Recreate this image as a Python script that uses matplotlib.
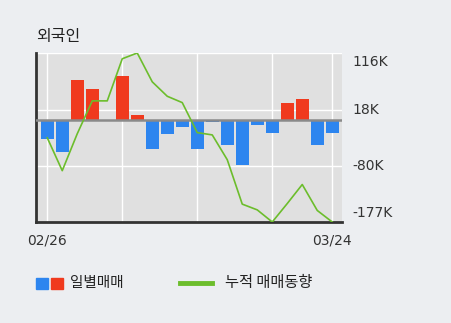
import matplotlib
matplotlib.use("Agg")
import matplotlib.pyplot as plt
import matplotlib.transforms as mtransforms
from matplotlib.patches import Rectangle
from matplotlib.lines import Line2D

plt.rcParams['font.family'] = ['Noto Sans CJK KR', 'DejaVu Sans']

# daily foreign net buying (thousand shares), 02/26 .. 03/24
daily = [-33, -55, 69, 53, 0, 76, 9, -50, -25, -13,
         -51, -3, -43, -79, -9, -22, 30, 37, -44, -22]
# cumulative net buying
cumulative = [-31, -88, -24, 33, 33, 106, 116, 66, 41, 30,
              -22, -26, -69, -146, -156, -177, -145, -112, -157, -177]
ytick_vals = [116, 18, -80, -177]
ytick_labels = ["116K", "18K", "-80K", "-177K"]
date_labels = {0: "02/26", 19: "03/24"}
title = "외국인"
legend_bar = "일별매매"
legend_line = "누적 매매동향"

RED = "#f03a1e"
BLUE = "#2d85ef"
GREEN = "#6cbd2c"
BG = "#eceef1"
PLOT_BG = "#e0e0e0"

W, H = 451, 323
fig = plt.figure(figsize=(W / 100, H / 100), dpi=100, facecolor=BG)
left, right, top, bottom = 36, 342, 53, 222
ax = fig.add_axes([left / W, 1 - bottom / H, (right - left) / W, (bottom - top) / H])
ax.set_facecolor(PLOT_BG)

x = list(range(len(daily)))
colors = [RED if v > 0 else BLUE for v in daily]
ax.bar(x, daily, width=0.87, color=colors, zorder=2)
ax.axhline(0, color="#8a8a8a", lw=1.8, zorder=3)
ax.plot(x, cumulative, color=GREEN, lw=1.2, zorder=4)

ax.set_xlim(-0.75, 19.65)
ax.set_ylim(-177, 116)

# white grid
for v in ytick_vals:
    ax.axhline(v, color="white", lw=1, zorder=1)
for xv in [0, 5, 10, 15, 19]:
    ax.axvline(xv, color="white", lw=1, zorder=1)

ax.set_xticks([])
ax.set_yticks([])
for s in ["top", "right"]:
    ax.spines[s].set_visible(False)
ax.spines["left"].set_color("#333333")
ax.spines["left"].set_linewidth(2)
ax.spines["bottom"].set_color("#333333")
ax.spines["bottom"].set_linewidth(2)

# right-side value labels
trans = mtransforms.blended_transform_factory(ax.transAxes, ax.transData)
vas = ["top", "center", "center", "bottom"]
for v, lab, va in zip(ytick_vals, ytick_labels, vas):
    off = -2 if va == "top" else (2 if va == "bottom" else 0)
    ax.annotate(lab, (1.0, v), xycoords=trans, xytext=(10, off),
                textcoords="offset pixels", ha="left", va=va,
                fontsize=10, color="#333333", family="DejaVu Sans")

for xv, lab in date_labels.items():
    ax.annotate(lab, (xv, 0), xycoords=("data", "axes fraction"),
                xytext=(0, -12), textcoords="offset pixels",
                ha="center", va="top", fontsize=10, color="#333333",
                family="DejaVu Sans")

fig.text(36 / W, 1 - 37 / H, title, fontsize=11.5, color="#222222",
         ha="left", va="center")

# legend
fig.patches.append(Rectangle((36 / W, 1 - 289 / H), 12 / W, 11 / H,
                             transform=fig.transFigure, color=BLUE))
fig.patches.append(Rectangle((51 / W, 1 - 289 / H), 12 / W, 11 / H,
                             transform=fig.transFigure, color=RED))
fig.text(70 / W, 1 - 283 / H, legend_bar, fontsize=10.5, color="#222222",
         ha="left", va="center")
fig.lines.append(Line2D([180 / W, 212 / W], [1 - 283 / H, 1 - 283 / H],
                        transform=fig.transFigure, color=GREEN, lw=3.5))
fig.text(225 / W, 1 - 283 / H, legend_line, fontsize=11, color="#222222",
         ha="left", va="center")

fig.savefig("out.png", dpi=100, facecolor=BG)
